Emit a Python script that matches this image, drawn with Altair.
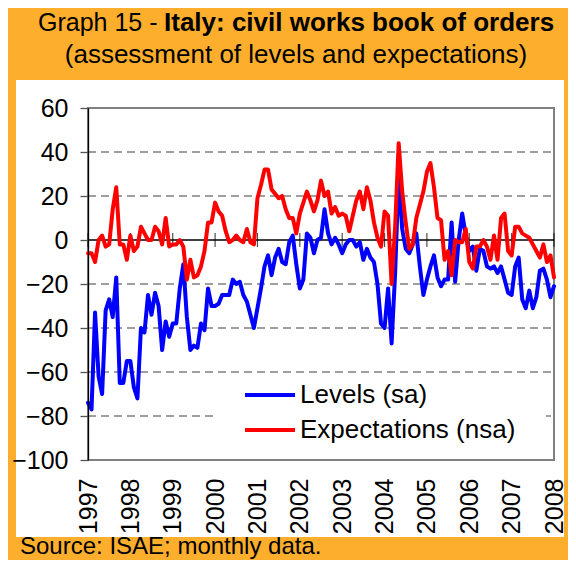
import altair as alt
import pandas as pd

# ---------------- data (monthly, Jan 1997 - Jan 2008) ----------------
levels = [
    -74, -77, -33, -62, -70, -32, -27, -35, -17, -65,
    -65, -55, -55, -67, -72, -40, -42, -25, -34, -24,
    -30, -50, -37, -44, -38, -38, -22, -11, -35, -50,
    -48, -49, -38, -41, -22, -30, -30, -29, -25, -25,
    -25, -18, -20, -19, -25, -28, -34, -40, -31, -22,
    -12, -7, -16, -8, -4, -10, -11, -1, 2, -11,
    -22, -18, 3, 1, -6, 0, 1, 14, 3, -2,
    1, -2, -6, -2, 0, 0, -3, -1, -9, -4,
    -8, -10, -20, -38, -40, -22, -47, -15, 30, 5,
    -4, -6, -2, 3, -12, -25, -18, -12, -7, -17,
    -21, -18, -18, 8, -19, 0, 12, 2, -5, -3,
    -14, -4, -5, -12, -13, -12, -15, -12, -18, -24,
    -25, -12, -8, -27, -31, -23, -31, -26, -14, -13,
    -18, -26, -21,
]
expectations = [
    -6, -6, -10, 0, 2, -3, -2, 14, 24, -2,
    -2, -9, 2, -5, -3, 6, 3, 0, 0, 6,
    4, -2, 10, -3, -2, -2, 0, -3, -18, -9,
    -17, -16, -12, -5, 8, 8, 17, 13, 11, 4,
    -1, 0, 2, 0, -1, 5, -1, -2, 19, 25,
    32, 32, 23, 21, 19, 20, 14, 10, 10, 3,
    12, 17, 22, 18, 13, 18, 27, 20, 22, 12,
    15, 11, 12, 11, 4, 11, 18, 22, 14, 24,
    18, 8, 1, -3, 13, 11, -20, 6, 44, 22,
    8, -4, -2, 10, 16, 22, 31, 35, 24, 10,
    9, -9, -5, -16, 0, -1, -1, 5, -10, -13,
    -3, -3, 0, -3, -9, 2, -9, 10, 12, -5,
    -7, 6, 6, 3, 2, 1, -2, -5, -8, -2,
    -10, -7, -17,
]
start_year = 1997
years = list(range(1997, 2009))
y_ticks = [60, 40, 20, 0, -20, -40, -60, -80, -100]
grid_values = [40, 20, -20, -40, -60, -80]
series = ["Levels (sa)", "Expectations (nsa)"]
colors = ["#0000FF", "#FF0000"]
title_plain = "Graph 15 - "
title_bold = "Italy: civil works book of orders"
subtitle = "(assessment of levels and expectations)"
source = "Source: ISAE; monthly data."

# ---------------- tables ----------------
n = len(levels)
t = [start_year + i / 12 for i in range(n)]
df = pd.DataFrame({
    "t": t + t,
    "value": levels + expectations,
    "series": [series[0]] * n + [series[1]] * n,
})
one = pd.DataFrame({"k": [0]})

# ---------------- styling ----------------
W, H = 466, 352
FONT = "Liberation Sans"
ORANGE = "#FCAE2C"
GRAY = "#808080"

xs = alt.Scale(domain=[1997, 2008], nice=False, zero=False)
ys = alt.Scale(domain=[-100, 60], nice=False, zero=False)
cs = alt.Scale(domain=series, range=colors)

xaxis = alt.Axis(values=years, format="d", labelAngle=-90, ticks=False, domain=False,
                 grid=False, labelPadding=18, labelFont=FONT, labelFontSize=25,
                 labelColor="black", title=None, zindex=1, labelFlush=False,
                 labelOverlap=False)
yaxis = alt.Axis(values=y_ticks, grid=False, tickSize=8, tickColor="#555555",
                 tickWidth=1.3, domainColor="black", domainWidth=1.3,
                 labelFont=FONT, labelFontSize=25, labelColor="black",
                 labelPadding=12, title=None, zindex=1)

bg = alt.Chart(one).mark_rect(color="white").encode(
    x=alt.value(-72), x2=alt.value(W + 10), y=alt.value(-28), y2=alt.value(H + 77))

grid = alt.Chart(pd.DataFrame({"v": grid_values})).mark_rule(
    color=GRAY, strokeWidth=1.5, strokeDash=[8, 5]).encode(
    y=alt.Y("v:Q", scale=ys, axis=yaxis), x=alt.value(0), x2=alt.value(W))

border = alt.Chart(one).mark_rect(filled=False, stroke=GRAY, strokeWidth=2).encode(
    x=alt.value(0), x2=alt.value(W), y=alt.value(0), y2=alt.value(H))

zero = alt.Chart(one).mark_rule(color="black", strokeWidth=1.3).encode(
    y=alt.datum(0, scale=ys, axis=yaxis), x=alt.value(0), x2=alt.value(W))

ticks = alt.Chart(pd.DataFrame({"yr": years})).mark_tick(
    color="black", orient="vertical", size=14, thickness=1.2).encode(
    x=alt.X("yr:Q", scale=xs, axis=xaxis), y=alt.datum(0, scale=ys, axis=yaxis))


def line_layer(name):
    return alt.Chart(df).transform_filter(alt.datum.series == name).mark_line(
        strokeWidth=4, strokeJoin="round", strokeCap="round").encode(
        x=alt.X("t:Q", scale=xs, axis=xaxis),
        y=alt.Y("value:Q", scale=ys, axis=yaxis),
        color=alt.Color("series:N", scale=cs, legend=None))


leg_box = alt.Chart(one).mark_rect(color="white").encode(
    x=alt.value(127), x2=alt.value(458), y=alt.value(270), y2=alt.value(350))
leg_items = []
for i, (name, col) in enumerate(zip(series, colors)):
    yy = 287 + 35 * i
    leg_items.append(alt.Chart(one).mark_rule(color=col, strokeWidth=4).encode(
        x=alt.value(157), x2=alt.value(207), y=alt.value(yy)))
    leg_items.append(alt.Chart(one).mark_text(
        align="left", baseline="middle", font=FONT, fontSize=26, color="black").encode(
        x=alt.value(212), y=alt.value(yy), text=alt.value(name)))

t1 = alt.Chart(one).mark_text(align="left", baseline="alphabetic", font=FONT,
                              fontSize=25, color="black").encode(
    x=alt.value(-50), y=alt.value(-77), text=alt.value(title_plain))
t2 = alt.Chart(one).mark_text(align="left", baseline="alphabetic", font=FONT,
                              fontSize=26, fontWeight="bold", color="black").encode(
    x=alt.value(76), y=alt.value(-77), text=alt.value(title_bold))
t3 = alt.Chart(one).mark_text(align="center", baseline="alphabetic", font=FONT,
                              fontSize=26, color="black").encode(
    x=alt.value(208), y=alt.value(-45), text=alt.value(subtitle))
t4 = alt.Chart(one).mark_text(align="left", baseline="alphabetic", font=FONT,
                              fontSize=24, color="black").encode(
    x=alt.value(-68), y=alt.value(446), text=alt.value(source))

chart = alt.layer(
    bg, grid, border, zero, ticks,
    line_layer(series[0]), line_layer(series[1]),
    leg_box, *leg_items, t1, t2, t3, t4,
).properties(
    width=W, height=H,
    padding={"left": 80, "top": 100, "right": 14, "bottom": 100},
    autosize=alt.AutoSizeParams(type="none"),
    background=ORANGE,
).configure_view(stroke=None)

chart.save("out.html", embed_options={"renderer": "svg", "actions": False})
